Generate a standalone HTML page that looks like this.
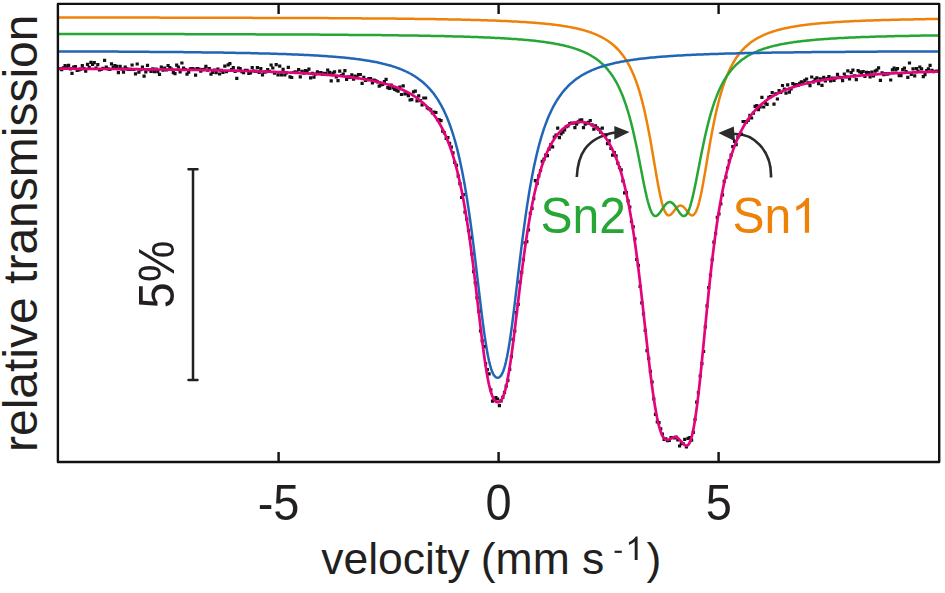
<!DOCTYPE html>
<html><head><meta charset="utf-8"><style>
html,body{margin:0;padding:0;background:#fff;}
body{width:945px;height:593px;overflow:hidden;}
svg{display:block;}
text{font-family:"Liberation Sans",sans-serif;fill:#231f1e;}
</style></head><body>
<svg width="945" height="593" viewBox="0 0 945 593">
<rect x="0" y="0" width="945" height="593" fill="#fff"/>
<g fill="none" stroke-linejoin="round" stroke-linecap="round">
<path d="M59.0 17.5L60.0 17.5L61.0 17.5L62.0 17.5L63.0 17.5L64.0 17.5L65.0 17.5L66.0 17.5L67.0 17.5L68.0 17.5L69.0 17.5L70.0 17.5L71.0 17.5L72.0 17.5L73.0 17.5L74.0 17.5L75.0 17.5L76.0 17.5L77.0 17.5L78.0 17.5L79.0 17.5L80.0 17.5L81.0 17.5L82.0 17.5L83.0 17.6L84.0 17.6L85.0 17.6L86.0 17.6L87.0 17.6L88.0 17.6L89.0 17.6L90.0 17.6L91.0 17.6L92.0 17.6L93.0 17.6L94.0 17.6L95.0 17.6L96.0 17.6L97.0 17.6L98.0 17.6L99.0 17.6L100.0 17.6L101.0 17.6L102.0 17.6L103.0 17.6L104.0 17.6L105.0 17.6L106.0 17.6L107.0 17.6L108.0 17.6L109.0 17.6L110.0 17.6L111.0 17.6L112.0 17.6L113.0 17.6L114.0 17.6L115.0 17.6L116.0 17.6L117.0 17.6L118.0 17.6L119.0 17.6L120.0 17.6L121.0 17.6L122.0 17.6L123.0 17.6L124.0 17.6L125.0 17.6L126.0 17.6L127.0 17.6L128.0 17.6L129.0 17.6L130.0 17.6L131.0 17.6L132.0 17.6L133.0 17.6L134.0 17.6L135.0 17.6L136.0 17.6L137.0 17.6L138.0 17.6L139.0 17.6L140.0 17.6L141.0 17.6L142.0 17.6L143.0 17.6L144.0 17.6L145.0 17.6L146.0 17.6L147.0 17.6L148.0 17.6L149.0 17.6L150.0 17.6L151.0 17.6L152.0 17.6L153.0 17.6L154.0 17.6L155.0 17.6L156.0 17.6L157.0 17.6L158.0 17.6L159.0 17.6L160.0 17.7L161.0 17.7L162.0 17.7L163.0 17.7L164.0 17.7L165.0 17.7L166.0 17.7L167.0 17.7L168.0 17.7L169.0 17.7L170.0 17.7L171.0 17.7L172.0 17.7L173.0 17.7L174.0 17.7L175.0 17.7L176.0 17.7L177.0 17.7L178.0 17.7L179.0 17.7L180.0 17.7L181.0 17.7L182.0 17.7L183.0 17.7L184.0 17.7L185.0 17.7L186.0 17.7L187.0 17.7L188.0 17.7L189.0 17.7L190.0 17.7L191.0 17.7L192.0 17.7L193.0 17.7L194.0 17.7L195.0 17.7L196.0 17.7L197.0 17.7L198.0 17.7L199.0 17.7L200.0 17.7L201.0 17.7L202.0 17.7L203.0 17.7L204.0 17.7L205.0 17.7L206.0 17.7L207.0 17.7L208.0 17.7L209.0 17.7L210.0 17.7L211.0 17.7L212.0 17.7L213.0 17.8L214.0 17.8L215.0 17.8L216.0 17.8L217.0 17.8L218.0 17.8L219.0 17.8L220.0 17.8L221.0 17.8L222.0 17.8L223.0 17.8L224.0 17.8L225.0 17.8L226.0 17.8L227.0 17.8L228.0 17.8L229.0 17.8L230.0 17.8L231.0 17.8L232.0 17.8L233.0 17.8L234.0 17.8L235.0 17.8L236.0 17.8L237.0 17.8L238.0 17.8L239.0 17.8L240.0 17.8L241.0 17.8L242.0 17.8L243.0 17.8L244.0 17.8L245.0 17.8L246.0 17.8L247.0 17.8L248.0 17.8L249.0 17.8L250.0 17.8L251.0 17.8L252.0 17.8L253.0 17.9L254.0 17.9L255.0 17.9L256.0 17.9L257.0 17.9L258.0 17.9L259.0 17.9L260.0 17.9L261.0 17.9L262.0 17.9L263.0 17.9L264.0 17.9L265.0 17.9L266.0 17.9L267.0 17.9L268.0 17.9L269.0 17.9L270.0 17.9L271.0 17.9L272.0 17.9L273.0 17.9L274.0 17.9L275.0 17.9L276.0 17.9L277.0 17.9L278.0 17.9L279.0 17.9L280.0 17.9L281.0 17.9L282.0 17.9L283.0 18.0L284.0 18.0L285.0 18.0L286.0 18.0L287.0 18.0L288.0 18.0L289.0 18.0L290.0 18.0L291.0 18.0L292.0 18.0L293.0 18.0L294.0 18.0L295.0 18.0L296.0 18.0L297.0 18.0L298.0 18.0L299.0 18.0L300.0 18.0L301.0 18.0L302.0 18.0L303.0 18.0L304.0 18.0L305.0 18.0L306.0 18.0L307.0 18.0L308.0 18.1L309.0 18.1L310.0 18.1L311.0 18.1L312.0 18.1L313.0 18.1L314.0 18.1L315.0 18.1L316.0 18.1L317.0 18.1L318.0 18.1L319.0 18.1L320.0 18.1L321.0 18.1L322.0 18.1L323.0 18.1L324.0 18.1L325.0 18.1L326.0 18.1L327.0 18.1L328.0 18.1L329.0 18.2L330.0 18.2L331.0 18.2L332.0 18.2L333.0 18.2L334.0 18.2L335.0 18.2L336.0 18.2L337.0 18.2L338.0 18.2L339.0 18.2L340.0 18.2L341.0 18.2L342.0 18.2L343.0 18.2L344.0 18.2L345.0 18.2L346.0 18.3L347.0 18.3L348.0 18.3L349.0 18.3L350.0 18.3L351.0 18.3L352.0 18.3L353.0 18.3L354.0 18.3L355.0 18.3L356.0 18.3L357.0 18.3L358.0 18.3L359.0 18.3L360.0 18.3L361.0 18.3L362.0 18.4L363.0 18.4L364.0 18.4L365.0 18.4L366.0 18.4L367.0 18.4L368.0 18.4L369.0 18.4L370.0 18.4L371.0 18.4L372.0 18.4L373.0 18.4L374.0 18.4L375.0 18.5L376.0 18.5L377.0 18.5L378.0 18.5L379.0 18.5L380.0 18.5L381.0 18.5L382.0 18.5L383.0 18.5L384.0 18.5L385.0 18.5L386.0 18.6L387.0 18.6L388.0 18.6L389.0 18.6L390.0 18.6L391.0 18.6L392.0 18.6L393.0 18.6L394.0 18.6L395.0 18.6L396.0 18.6L397.0 18.7L398.0 18.7L399.0 18.7L400.0 18.7L401.0 18.7L402.0 18.7L403.0 18.7L404.0 18.7L405.0 18.7L406.0 18.8L407.0 18.8L408.0 18.8L409.0 18.8L410.0 18.8L411.0 18.8L412.0 18.8L413.0 18.8L414.0 18.8L415.0 18.9L416.0 18.9L417.0 18.9L418.0 18.9L419.0 18.9L420.0 18.9L421.0 18.9L422.0 19.0L423.0 19.0L424.0 19.0L425.0 19.0L426.0 19.0L427.0 19.0L428.0 19.0L429.0 19.1L430.0 19.1L431.0 19.1L432.0 19.1L433.0 19.1L434.0 19.1L435.0 19.1L436.0 19.2L437.0 19.2L438.0 19.2L439.0 19.2L440.0 19.2L441.0 19.2L442.0 19.3L443.0 19.3L444.0 19.3L445.0 19.3L446.0 19.3L447.0 19.3L448.0 19.4L449.0 19.4L450.0 19.4L451.0 19.4L452.0 19.4L453.0 19.5L454.0 19.5L455.0 19.5L456.0 19.5L457.0 19.5L458.0 19.6L459.0 19.6L460.0 19.6L461.0 19.6L462.0 19.7L463.0 19.7L464.0 19.7L465.0 19.7L466.0 19.7L467.0 19.8L468.0 19.8L469.0 19.8L470.0 19.8L471.0 19.9L472.0 19.9L473.0 19.9L474.0 20.0L475.0 20.0L476.0 20.0L477.0 20.0L478.0 20.1L479.0 20.1L480.0 20.1L481.0 20.2L482.0 20.2L483.0 20.2L484.0 20.2L485.0 20.3L486.0 20.3L487.0 20.3L488.0 20.4L489.0 20.4L490.0 20.4L491.0 20.5L492.0 20.5L493.0 20.5L494.0 20.6L495.0 20.6L496.0 20.7L497.0 20.7L498.0 20.7L499.0 20.8L500.0 20.8L501.0 20.9L502.0 20.9L503.0 20.9L504.0 21.0L505.0 21.0L506.0 21.1L507.0 21.1L508.0 21.2L509.0 21.2L510.0 21.3L511.0 21.3L512.0 21.4L513.0 21.4L514.0 21.5L515.0 21.5L516.0 21.6L517.0 21.6L518.0 21.7L519.0 21.7L520.0 21.8L521.0 21.9L522.0 21.9L523.0 22.0L524.0 22.0L525.0 22.1L526.0 22.2L527.0 22.2L528.0 22.3L529.0 22.4L530.0 22.4L531.0 22.5L532.0 22.6L533.0 22.7L534.0 22.7L535.0 22.8L536.0 22.9L537.0 23.0L538.0 23.1L539.0 23.2L540.0 23.2L541.0 23.3L542.0 23.4L543.0 23.5L544.0 23.6L545.0 23.7L546.0 23.8L547.0 23.9L548.0 24.0L549.0 24.1L550.0 24.2L551.0 24.3L552.0 24.5L553.0 24.6L554.0 24.7L555.0 24.8L556.0 24.9L557.0 25.1L558.0 25.2L559.0 25.3L560.0 25.5L561.0 25.6L562.0 25.8L563.0 25.9L564.0 26.1L565.0 26.2L566.0 26.4L567.0 26.6L568.0 26.8L569.0 26.9L570.0 27.1L571.0 27.3L572.0 27.5L573.0 27.7L574.0 27.9L575.0 28.1L576.0 28.3L577.0 28.6L578.0 28.8L579.0 29.0L580.0 29.3L581.0 29.5L582.0 29.8L583.0 30.0L584.0 30.3L585.0 30.6L586.0 30.9L587.0 31.2L588.0 31.5L589.0 31.9L590.0 32.2L591.0 32.5L592.0 32.9L593.0 33.3L594.0 33.7L595.0 34.1L596.0 34.5L597.0 34.9L598.0 35.4L599.0 35.8L600.0 36.3L601.0 36.8L602.0 37.4L603.0 37.9L604.0 38.5L605.0 39.0L606.0 39.7L607.0 40.3L608.0 41.0L609.0 41.7L610.0 42.4L611.0 43.1L612.0 43.9L613.0 44.8L614.0 45.6L615.0 46.5L616.0 47.5L617.0 48.5L618.0 49.5L619.0 50.6L620.0 51.7L621.0 52.9L622.0 54.2L623.0 55.5L624.0 56.9L625.0 58.4L626.0 60.0L627.0 61.6L628.0 63.3L629.0 65.1L630.0 67.0L631.0 69.1L632.0 71.2L633.0 73.5L634.0 75.8L635.0 78.4L636.0 81.0L637.0 83.9L638.0 86.9L639.0 90.0L640.0 93.4L641.0 96.9L642.0 100.6L643.0 104.6L644.0 108.7L645.0 113.1L646.0 117.7L647.0 122.5L648.0 127.5L649.0 132.7L650.0 138.1L651.0 143.7L652.0 149.5L653.0 155.3L654.0 161.2L655.0 167.1L656.0 173.0L657.0 178.8L658.0 184.3L659.0 189.6L660.0 194.5L661.0 199.0L662.0 203.1L663.0 206.5L664.0 209.4L665.0 211.7L666.0 213.4L667.0 214.6L668.0 215.3L669.0 215.4L670.0 215.1L671.0 214.4L672.0 213.4L673.0 212.2L674.0 210.9L675.0 209.6L676.0 208.4L677.0 207.3L678.0 206.5L679.0 205.9L680.0 205.6L681.0 205.6L682.0 205.9L683.0 206.5L684.0 207.4L685.0 208.5L686.0 209.7L687.0 211.0L688.0 212.3L689.0 213.5L690.0 214.5L691.0 215.1L692.0 215.4L693.0 215.2L694.0 214.5L695.0 213.3L696.0 211.5L697.0 209.2L698.0 206.3L699.0 202.8L700.0 198.7L701.0 194.2L702.0 189.2L703.0 183.9L704.0 178.3L705.0 172.6L706.0 166.7L707.0 160.7L708.0 154.8L709.0 149.0L710.0 143.3L711.0 137.7L712.0 132.3L713.0 127.1L714.0 122.1L715.0 117.3L716.0 112.7L717.0 108.4L718.0 104.2L719.0 100.3L720.0 96.6L721.0 93.1L722.0 89.8L723.0 86.6L724.0 83.6L725.0 80.8L726.0 78.2L727.0 75.6L728.0 73.3L729.0 71.0L730.0 68.9L731.0 66.9L732.0 65.0L733.0 63.2L734.0 61.5L735.0 59.8L736.0 58.3L737.0 56.8L738.0 55.4L739.0 54.1L740.0 52.8L741.0 51.7L742.0 50.5L743.0 49.4L744.0 48.4L745.0 47.4L746.0 46.5L747.0 45.6L748.0 44.7L749.0 43.9L750.0 43.1L751.0 42.3L752.0 41.6L753.0 40.9L754.0 40.3L755.0 39.6L756.0 39.0L757.0 38.4L758.0 37.9L759.0 37.3L760.0 36.8L761.0 36.3L762.0 35.8L763.0 35.3L764.0 34.9L765.0 34.5L766.0 34.0L767.0 33.6L768.0 33.3L769.0 32.9L770.0 32.5L771.0 32.2L772.0 31.8L773.0 31.5L774.0 31.2L775.0 30.9L776.0 30.6L777.0 30.3L778.0 30.0L779.0 29.8L780.0 29.5L781.0 29.2L782.0 29.0L783.0 28.8L784.0 28.5L785.0 28.3L786.0 28.1L787.0 27.9L788.0 27.7L789.0 27.5L790.0 27.3L791.0 27.1L792.0 26.9L793.0 26.7L794.0 26.6L795.0 26.4L796.0 26.2L797.0 26.1L798.0 25.9L799.0 25.8L800.0 25.6L801.0 25.5L802.0 25.3L803.0 25.2L804.0 25.1L805.0 24.9L806.0 24.8L807.0 24.7L808.0 24.6L809.0 24.5L810.0 24.3L811.0 24.2L812.0 24.1L813.0 24.0L814.0 23.9L815.0 23.8L816.0 23.7L817.0 23.6L818.0 23.5L819.0 23.4L820.0 23.3L821.0 23.2L822.0 23.1L823.0 23.1L824.0 23.0L825.0 22.9L826.0 22.8L827.0 22.7L828.0 22.7L829.0 22.6L830.0 22.5L831.0 22.4L832.0 22.4L833.0 22.3L834.0 22.2L835.0 22.2L836.0 22.1L837.0 22.0L838.0 22.0L839.0 21.9L840.0 21.9L841.0 21.8L842.0 21.7L843.0 21.7L844.0 21.6L845.0 21.6L846.0 21.5L847.0 21.5L848.0 21.4L849.0 21.4L850.0 21.3L851.0 21.3L852.0 21.2L853.0 21.2L854.0 21.1L855.0 21.1L856.0 21.0L857.0 21.0L858.0 20.9L859.0 20.9L860.0 20.9L861.0 20.8L862.0 20.8L863.0 20.7L864.0 20.7L865.0 20.7L866.0 20.6L867.0 20.6L868.0 20.5L869.0 20.5L870.0 20.5L871.0 20.4L872.0 20.4L873.0 20.4L874.0 20.3L875.0 20.3L876.0 20.3L877.0 20.2L878.0 20.2L879.0 20.2L880.0 20.2L881.0 20.1L882.0 20.1L883.0 20.1L884.0 20.0L885.0 20.0L886.0 20.0L887.0 20.0L888.0 19.9L889.0 19.9L890.0 19.9L891.0 19.8L892.0 19.8L893.0 19.8L894.0 19.8L895.0 19.7L896.0 19.7L897.0 19.7L898.0 19.7L899.0 19.7L900.0 19.6L901.0 19.6L902.0 19.6L903.0 19.6L904.0 19.5L905.0 19.5L906.0 19.5L907.0 19.5L908.0 19.5L909.0 19.4L910.0 19.4L911.0 19.4L912.0 19.4L913.0 19.4L914.0 19.3L915.0 19.3L916.0 19.3L917.0 19.3L918.0 19.3L919.0 19.3L920.0 19.2L921.0 19.2L922.0 19.2L923.0 19.2L924.0 19.2L925.0 19.2L926.0 19.1L927.0 19.1L928.0 19.1L929.0 19.1L930.0 19.1L931.0 19.1L932.0 19.0L933.0 19.0L934.0 19.0L935.0 19.0L936.0 19.0L937.0 19.0L938.0 19.0" stroke="#ee8208" stroke-width="2.5"/>
<path d="M59.0 34.0L60.0 34.0L61.0 34.0L62.0 34.0L63.0 34.0L64.0 34.0L65.0 34.0L66.0 34.0L67.0 34.0L68.0 34.0L69.0 34.0L70.0 34.0L71.0 34.0L72.0 34.0L73.0 34.0L74.0 34.0L75.0 34.0L76.0 34.0L77.0 34.0L78.0 34.0L79.0 34.0L80.0 34.0L81.0 34.0L82.0 34.0L83.0 34.0L84.0 34.0L85.0 34.0L86.0 34.0L87.0 34.0L88.0 34.0L89.0 34.0L90.0 34.0L91.0 34.0L92.0 34.0L93.0 34.0L94.0 34.0L95.0 34.0L96.0 34.0L97.0 34.0L98.0 34.0L99.0 34.0L100.0 34.0L101.0 34.0L102.0 34.0L103.0 34.0L104.0 34.0L105.0 34.0L106.0 34.0L107.0 34.0L108.0 34.0L109.0 34.0L110.0 34.0L111.0 34.0L112.0 34.0L113.0 34.0L114.0 34.0L115.0 34.0L116.0 34.0L117.0 34.0L118.0 34.0L119.0 34.0L120.0 34.0L121.0 34.0L122.0 34.0L123.0 34.0L124.0 34.0L125.0 34.0L126.0 34.0L127.0 34.0L128.0 34.0L129.0 34.0L130.0 34.0L131.0 34.0L132.0 34.0L133.0 34.1L134.0 34.1L135.0 34.1L136.0 34.1L137.0 34.1L138.0 34.1L139.0 34.1L140.0 34.1L141.0 34.1L142.0 34.1L143.0 34.1L144.0 34.1L145.0 34.1L146.0 34.1L147.0 34.1L148.0 34.1L149.0 34.1L150.0 34.1L151.0 34.1L152.0 34.1L153.0 34.1L154.0 34.1L155.0 34.1L156.0 34.1L157.0 34.1L158.0 34.1L159.0 34.1L160.0 34.1L161.0 34.1L162.0 34.1L163.0 34.1L164.0 34.1L165.0 34.1L166.0 34.1L167.0 34.1L168.0 34.1L169.0 34.1L170.0 34.1L171.0 34.1L172.0 34.1L173.0 34.1L174.0 34.1L175.0 34.1L176.0 34.1L177.0 34.1L178.0 34.1L179.0 34.1L180.0 34.1L181.0 34.1L182.0 34.1L183.0 34.1L184.0 34.1L185.0 34.2L186.0 34.2L187.0 34.2L188.0 34.2L189.0 34.2L190.0 34.2L191.0 34.2L192.0 34.2L193.0 34.2L194.0 34.2L195.0 34.2L196.0 34.2L197.0 34.2L198.0 34.2L199.0 34.2L200.0 34.2L201.0 34.2L202.0 34.2L203.0 34.2L204.0 34.2L205.0 34.2L206.0 34.2L207.0 34.2L208.0 34.2L209.0 34.2L210.0 34.2L211.0 34.2L212.0 34.2L213.0 34.2L214.0 34.2L215.0 34.2L216.0 34.2L217.0 34.2L218.0 34.2L219.0 34.2L220.0 34.2L221.0 34.2L222.0 34.2L223.0 34.2L224.0 34.2L225.0 34.3L226.0 34.3L227.0 34.3L228.0 34.3L229.0 34.3L230.0 34.3L231.0 34.3L232.0 34.3L233.0 34.3L234.0 34.3L235.0 34.3L236.0 34.3L237.0 34.3L238.0 34.3L239.0 34.3L240.0 34.3L241.0 34.3L242.0 34.3L243.0 34.3L244.0 34.3L245.0 34.3L246.0 34.3L247.0 34.3L248.0 34.3L249.0 34.3L250.0 34.3L251.0 34.3L252.0 34.3L253.0 34.3L254.0 34.3L255.0 34.3L256.0 34.4L257.0 34.4L258.0 34.4L259.0 34.4L260.0 34.4L261.0 34.4L262.0 34.4L263.0 34.4L264.0 34.4L265.0 34.4L266.0 34.4L267.0 34.4L268.0 34.4L269.0 34.4L270.0 34.4L271.0 34.4L272.0 34.4L273.0 34.4L274.0 34.4L275.0 34.4L276.0 34.4L277.0 34.4L278.0 34.4L279.0 34.4L280.0 34.4L281.0 34.5L282.0 34.5L283.0 34.5L284.0 34.5L285.0 34.5L286.0 34.5L287.0 34.5L288.0 34.5L289.0 34.5L290.0 34.5L291.0 34.5L292.0 34.5L293.0 34.5L294.0 34.5L295.0 34.5L296.0 34.5L297.0 34.5L298.0 34.5L299.0 34.5L300.0 34.5L301.0 34.5L302.0 34.6L303.0 34.6L304.0 34.6L305.0 34.6L306.0 34.6L307.0 34.6L308.0 34.6L309.0 34.6L310.0 34.6L311.0 34.6L312.0 34.6L313.0 34.6L314.0 34.6L315.0 34.6L316.0 34.6L317.0 34.6L318.0 34.6L319.0 34.6L320.0 34.7L321.0 34.7L322.0 34.7L323.0 34.7L324.0 34.7L325.0 34.7L326.0 34.7L327.0 34.7L328.0 34.7L329.0 34.7L330.0 34.7L331.0 34.7L332.0 34.7L333.0 34.7L334.0 34.7L335.0 34.7L336.0 34.8L337.0 34.8L338.0 34.8L339.0 34.8L340.0 34.8L341.0 34.8L342.0 34.8L343.0 34.8L344.0 34.8L345.0 34.8L346.0 34.8L347.0 34.8L348.0 34.8L349.0 34.9L350.0 34.9L351.0 34.9L352.0 34.9L353.0 34.9L354.0 34.9L355.0 34.9L356.0 34.9L357.0 34.9L358.0 34.9L359.0 34.9L360.0 34.9L361.0 34.9L362.0 35.0L363.0 35.0L364.0 35.0L365.0 35.0L366.0 35.0L367.0 35.0L368.0 35.0L369.0 35.0L370.0 35.0L371.0 35.0L372.0 35.1L373.0 35.1L374.0 35.1L375.0 35.1L376.0 35.1L377.0 35.1L378.0 35.1L379.0 35.1L380.0 35.1L381.0 35.1L382.0 35.2L383.0 35.2L384.0 35.2L385.0 35.2L386.0 35.2L387.0 35.2L388.0 35.2L389.0 35.2L390.0 35.2L391.0 35.3L392.0 35.3L393.0 35.3L394.0 35.3L395.0 35.3L396.0 35.3L397.0 35.3L398.0 35.3L399.0 35.4L400.0 35.4L401.0 35.4L402.0 35.4L403.0 35.4L404.0 35.4L405.0 35.4L406.0 35.5L407.0 35.5L408.0 35.5L409.0 35.5L410.0 35.5L411.0 35.5L412.0 35.5L413.0 35.6L414.0 35.6L415.0 35.6L416.0 35.6L417.0 35.6L418.0 35.6L419.0 35.7L420.0 35.7L421.0 35.7L422.0 35.7L423.0 35.7L424.0 35.7L425.0 35.8L426.0 35.8L427.0 35.8L428.0 35.8L429.0 35.8L430.0 35.8L431.0 35.9L432.0 35.9L433.0 35.9L434.0 35.9L435.0 35.9L436.0 36.0L437.0 36.0L438.0 36.0L439.0 36.0L440.0 36.0L441.0 36.1L442.0 36.1L443.0 36.1L444.0 36.1L445.0 36.2L446.0 36.2L447.0 36.2L448.0 36.2L449.0 36.3L450.0 36.3L451.0 36.3L452.0 36.3L453.0 36.4L454.0 36.4L455.0 36.4L456.0 36.4L457.0 36.5L458.0 36.5L459.0 36.5L460.0 36.5L461.0 36.6L462.0 36.6L463.0 36.6L464.0 36.7L465.0 36.7L466.0 36.7L467.0 36.8L468.0 36.8L469.0 36.8L470.0 36.8L471.0 36.9L472.0 36.9L473.0 36.9L474.0 37.0L475.0 37.0L476.0 37.1L477.0 37.1L478.0 37.1L479.0 37.2L480.0 37.2L481.0 37.2L482.0 37.3L483.0 37.3L484.0 37.4L485.0 37.4L486.0 37.4L487.0 37.5L488.0 37.5L489.0 37.6L490.0 37.6L491.0 37.7L492.0 37.7L493.0 37.8L494.0 37.8L495.0 37.9L496.0 37.9L497.0 38.0L498.0 38.0L499.0 38.1L500.0 38.1L501.0 38.2L502.0 38.2L503.0 38.3L504.0 38.3L505.0 38.4L506.0 38.5L507.0 38.5L508.0 38.6L509.0 38.7L510.0 38.7L511.0 38.8L512.0 38.9L513.0 38.9L514.0 39.0L515.0 39.1L516.0 39.1L517.0 39.2L518.0 39.3L519.0 39.4L520.0 39.4L521.0 39.5L522.0 39.6L523.0 39.7L524.0 39.8L525.0 39.9L526.0 39.9L527.0 40.0L528.0 40.1L529.0 40.2L530.0 40.3L531.0 40.4L532.0 40.5L533.0 40.6L534.0 40.7L535.0 40.8L536.0 41.0L537.0 41.1L538.0 41.2L539.0 41.3L540.0 41.4L541.0 41.6L542.0 41.7L543.0 41.8L544.0 42.0L545.0 42.1L546.0 42.2L547.0 42.4L548.0 42.5L549.0 42.7L550.0 42.8L551.0 43.0L552.0 43.2L553.0 43.3L554.0 43.5L555.0 43.7L556.0 43.9L557.0 44.1L558.0 44.3L559.0 44.5L560.0 44.7L561.0 44.9L562.0 45.1L563.0 45.3L564.0 45.5L565.0 45.8L566.0 46.0L567.0 46.3L568.0 46.5L569.0 46.8L570.0 47.1L571.0 47.4L572.0 47.6L573.0 47.9L574.0 48.3L575.0 48.6L576.0 48.9L577.0 49.3L578.0 49.6L579.0 50.0L580.0 50.4L581.0 50.8L582.0 51.2L583.0 51.6L584.0 52.0L585.0 52.5L586.0 52.9L587.0 53.4L588.0 53.9L589.0 54.5L590.0 55.0L591.0 55.6L592.0 56.2L593.0 56.8L594.0 57.4L595.0 58.1L596.0 58.8L597.0 59.5L598.0 60.3L599.0 61.0L600.0 61.9L601.0 62.7L602.0 63.6L603.0 64.5L604.0 65.5L605.0 66.5L606.0 67.6L607.0 68.7L608.0 69.9L609.0 71.2L610.0 72.4L611.0 73.8L612.0 75.2L613.0 76.7L614.0 78.3L615.0 80.0L616.0 81.7L617.0 83.5L618.0 85.5L619.0 87.5L620.0 89.7L621.0 91.9L622.0 94.3L623.0 96.8L624.0 99.5L625.0 102.3L626.0 105.2L627.0 108.3L628.0 111.6L629.0 115.0L630.0 118.6L631.0 122.4L632.0 126.4L633.0 130.5L634.0 134.9L635.0 139.4L636.0 144.0L637.0 148.8L638.0 153.8L639.0 158.8L640.0 163.9L641.0 169.1L642.0 174.3L643.0 179.4L644.0 184.4L645.0 189.2L646.0 193.8L647.0 198.1L648.0 202.0L649.0 205.5L650.0 208.5L651.0 211.1L652.0 213.1L653.0 214.6L654.0 215.6L655.0 216.0L656.0 216.0L657.0 215.6L658.0 214.8L659.0 213.7L660.0 212.4L661.0 211.0L662.0 209.4L663.0 207.9L664.0 206.5L665.0 205.2L666.0 204.0L667.0 203.1L668.0 202.5L669.0 202.1L670.0 202.1L671.0 202.3L672.0 202.8L673.0 203.6L674.0 204.7L675.0 205.9L676.0 207.3L677.0 208.8L678.0 210.4L679.0 211.9L680.0 213.3L681.0 214.4L682.0 215.4L683.0 215.9L684.0 216.1L685.0 215.8L686.0 215.0L687.0 213.7L688.0 211.9L689.0 209.6L690.0 206.8L691.0 203.4L692.0 199.7L693.0 195.5L694.0 191.0L695.0 186.3L696.0 181.4L697.0 176.3L698.0 171.1L699.0 166.0L700.0 160.8L701.0 155.7L702.0 150.7L703.0 145.9L704.0 141.2L705.0 136.6L706.0 132.2L707.0 128.0L708.0 124.0L709.0 120.1L710.0 116.4L711.0 112.9L712.0 109.6L713.0 106.4L714.0 103.4L715.0 100.6L716.0 97.9L717.0 95.3L718.0 92.9L719.0 90.5L720.0 88.3L721.0 86.3L722.0 84.3L723.0 82.4L724.0 80.6L725.0 78.9L726.0 77.3L727.0 75.8L728.0 74.4L729.0 73.0L730.0 71.7L731.0 70.4L732.0 69.2L733.0 68.1L734.0 67.0L735.0 65.9L736.0 64.9L737.0 64.0L738.0 63.1L739.0 62.2L740.0 61.4L741.0 60.6L742.0 59.8L743.0 59.1L744.0 58.4L745.0 57.7L746.0 57.0L747.0 56.4L748.0 55.8L749.0 55.2L750.0 54.7L751.0 54.1L752.0 53.6L753.0 53.1L754.0 52.7L755.0 52.2L756.0 51.8L757.0 51.3L758.0 50.9L759.0 50.5L760.0 50.1L761.0 49.8L762.0 49.4L763.0 49.0L764.0 48.7L765.0 48.4L766.0 48.1L767.0 47.8L768.0 47.5L769.0 47.2L770.0 46.9L771.0 46.6L772.0 46.4L773.0 46.1L774.0 45.9L775.0 45.6L776.0 45.4L777.0 45.2L778.0 45.0L779.0 44.7L780.0 44.5L781.0 44.3L782.0 44.1L783.0 43.9L784.0 43.8L785.0 43.6L786.0 43.4L787.0 43.2L788.0 43.1L789.0 42.9L790.0 42.7L791.0 42.6L792.0 42.4L793.0 42.3L794.0 42.1L795.0 42.0L796.0 41.9L797.0 41.7L798.0 41.6L799.0 41.5L800.0 41.4L801.0 41.2L802.0 41.1L803.0 41.0L804.0 40.9L805.0 40.8L806.0 40.7L807.0 40.6L808.0 40.5L809.0 40.4L810.0 40.3L811.0 40.2L812.0 40.1L813.0 40.0L814.0 39.9L815.0 39.8L816.0 39.7L817.0 39.6L818.0 39.6L819.0 39.5L820.0 39.4L821.0 39.3L822.0 39.2L823.0 39.2L824.0 39.1L825.0 39.0L826.0 38.9L827.0 38.9L828.0 38.8L829.0 38.7L830.0 38.7L831.0 38.6L832.0 38.6L833.0 38.5L834.0 38.4L835.0 38.4L836.0 38.3L837.0 38.3L838.0 38.2L839.0 38.1L840.0 38.1L841.0 38.0L842.0 38.0L843.0 37.9L844.0 37.9L845.0 37.8L846.0 37.8L847.0 37.7L848.0 37.7L849.0 37.6L850.0 37.6L851.0 37.6L852.0 37.5L853.0 37.5L854.0 37.4L855.0 37.4L856.0 37.3L857.0 37.3L858.0 37.3L859.0 37.2L860.0 37.2L861.0 37.1L862.0 37.1L863.0 37.1L864.0 37.0L865.0 37.0L866.0 37.0L867.0 36.9L868.0 36.9L869.0 36.9L870.0 36.8L871.0 36.8L872.0 36.8L873.0 36.7L874.0 36.7L875.0 36.7L876.0 36.6L877.0 36.6L878.0 36.6L879.0 36.6L880.0 36.5L881.0 36.5L882.0 36.5L883.0 36.4L884.0 36.4L885.0 36.4L886.0 36.4L887.0 36.3L888.0 36.3L889.0 36.3L890.0 36.3L891.0 36.2L892.0 36.2L893.0 36.2L894.0 36.2L895.0 36.1L896.0 36.1L897.0 36.1L898.0 36.1L899.0 36.1L900.0 36.0L901.0 36.0L902.0 36.0L903.0 36.0L904.0 36.0L905.0 35.9L906.0 35.9L907.0 35.9L908.0 35.9L909.0 35.9L910.0 35.8L911.0 35.8L912.0 35.8L913.0 35.8L914.0 35.8L915.0 35.7L916.0 35.7L917.0 35.7L918.0 35.7L919.0 35.7L920.0 35.7L921.0 35.6L922.0 35.6L923.0 35.6L924.0 35.6L925.0 35.6L926.0 35.6L927.0 35.5L928.0 35.5L929.0 35.5L930.0 35.5L931.0 35.5L932.0 35.5L933.0 35.5L934.0 35.4L935.0 35.4L936.0 35.4L937.0 35.4L938.0 35.4" stroke="#26a635" stroke-width="2.5"/>
<path d="M59.0 51.4L60.0 51.4L61.0 51.4L62.0 51.4L63.0 51.4L64.0 51.4L65.0 51.4L66.0 51.4L67.0 51.4L68.0 51.4L69.0 51.4L70.0 51.4L71.0 51.4L72.0 51.4L73.0 51.4L74.0 51.4L75.0 51.4L76.0 51.5L77.0 51.5L78.0 51.5L79.0 51.5L80.0 51.5L81.0 51.5L82.0 51.5L83.0 51.5L84.0 51.5L85.0 51.5L86.0 51.5L87.0 51.5L88.0 51.5L89.0 51.5L90.0 51.5L91.0 51.5L92.0 51.5L93.0 51.5L94.0 51.5L95.0 51.5L96.0 51.5L97.0 51.5L98.0 51.5L99.0 51.6L100.0 51.6L101.0 51.6L102.0 51.6L103.0 51.6L104.0 51.6L105.0 51.6L106.0 51.6L107.0 51.6L108.0 51.6L109.0 51.6L110.0 51.6L111.0 51.6L112.0 51.6L113.0 51.6L114.0 51.6L115.0 51.6L116.0 51.6L117.0 51.6L118.0 51.6L119.0 51.7L120.0 51.7L121.0 51.7L122.0 51.7L123.0 51.7L124.0 51.7L125.0 51.7L126.0 51.7L127.0 51.7L128.0 51.7L129.0 51.7L130.0 51.7L131.0 51.7L132.0 51.7L133.0 51.7L134.0 51.7L135.0 51.8L136.0 51.8L137.0 51.8L138.0 51.8L139.0 51.8L140.0 51.8L141.0 51.8L142.0 51.8L143.0 51.8L144.0 51.8L145.0 51.8L146.0 51.8L147.0 51.8L148.0 51.8L149.0 51.8L150.0 51.9L151.0 51.9L152.0 51.9L153.0 51.9L154.0 51.9L155.0 51.9L156.0 51.9L157.0 51.9L158.0 51.9L159.0 51.9L160.0 51.9L161.0 51.9L162.0 51.9L163.0 52.0L164.0 52.0L165.0 52.0L166.0 52.0L167.0 52.0L168.0 52.0L169.0 52.0L170.0 52.0L171.0 52.0L172.0 52.0L173.0 52.0L174.0 52.1L175.0 52.1L176.0 52.1L177.0 52.1L178.0 52.1L179.0 52.1L180.0 52.1L181.0 52.1L182.0 52.1L183.0 52.1L184.0 52.2L185.0 52.2L186.0 52.2L187.0 52.2L188.0 52.2L189.0 52.2L190.0 52.2L191.0 52.2L192.0 52.2L193.0 52.2L194.0 52.3L195.0 52.3L196.0 52.3L197.0 52.3L198.0 52.3L199.0 52.3L200.0 52.3L201.0 52.3L202.0 52.4L203.0 52.4L204.0 52.4L205.0 52.4L206.0 52.4L207.0 52.4L208.0 52.4L209.0 52.4L210.0 52.5L211.0 52.5L212.0 52.5L213.0 52.5L214.0 52.5L215.0 52.5L216.0 52.5L217.0 52.6L218.0 52.6L219.0 52.6L220.0 52.6L221.0 52.6L222.0 52.6L223.0 52.6L224.0 52.7L225.0 52.7L226.0 52.7L227.0 52.7L228.0 52.7L229.0 52.7L230.0 52.8L231.0 52.8L232.0 52.8L233.0 52.8L234.0 52.8L235.0 52.8L236.0 52.9L237.0 52.9L238.0 52.9L239.0 52.9L240.0 52.9L241.0 53.0L242.0 53.0L243.0 53.0L244.0 53.0L245.0 53.0L246.0 53.1L247.0 53.1L248.0 53.1L249.0 53.1L250.0 53.1L251.0 53.2L252.0 53.2L253.0 53.2L254.0 53.2L255.0 53.3L256.0 53.3L257.0 53.3L258.0 53.3L259.0 53.4L260.0 53.4L261.0 53.4L262.0 53.4L263.0 53.5L264.0 53.5L265.0 53.5L266.0 53.5L267.0 53.6L268.0 53.6L269.0 53.6L270.0 53.6L271.0 53.7L272.0 53.7L273.0 53.7L274.0 53.8L275.0 53.8L276.0 53.8L277.0 53.8L278.0 53.9L279.0 53.9L280.0 53.9L281.0 54.0L282.0 54.0L283.0 54.0L284.0 54.1L285.0 54.1L286.0 54.1L287.0 54.2L288.0 54.2L289.0 54.3L290.0 54.3L291.0 54.3L292.0 54.4L293.0 54.4L294.0 54.5L295.0 54.5L296.0 54.5L297.0 54.6L298.0 54.6L299.0 54.7L300.0 54.7L301.0 54.7L302.0 54.8L303.0 54.8L304.0 54.9L305.0 54.9L306.0 55.0L307.0 55.0L308.0 55.1L309.0 55.1L310.0 55.2L311.0 55.2L312.0 55.3L313.0 55.3L314.0 55.4L315.0 55.5L316.0 55.5L317.0 55.6L318.0 55.6L319.0 55.7L320.0 55.8L321.0 55.8L322.0 55.9L323.0 55.9L324.0 56.0L325.0 56.1L326.0 56.1L327.0 56.2L328.0 56.3L329.0 56.4L330.0 56.4L331.0 56.5L332.0 56.6L333.0 56.7L334.0 56.7L335.0 56.8L336.0 56.9L337.0 57.0L338.0 57.1L339.0 57.2L340.0 57.2L341.0 57.3L342.0 57.4L343.0 57.5L344.0 57.6L345.0 57.7L346.0 57.8L347.0 57.9L348.0 58.0L349.0 58.1L350.0 58.2L351.0 58.4L352.0 58.5L353.0 58.6L354.0 58.7L355.0 58.8L356.0 58.9L357.0 59.1L358.0 59.2L359.0 59.3L360.0 59.5L361.0 59.6L362.0 59.8L363.0 59.9L364.0 60.0L365.0 60.2L366.0 60.4L367.0 60.5L368.0 60.7L369.0 60.8L370.0 61.0L371.0 61.2L372.0 61.4L373.0 61.5L374.0 61.7L375.0 61.9L376.0 62.1L377.0 62.3L378.0 62.5L379.0 62.8L380.0 63.0L381.0 63.2L382.0 63.4L383.0 63.7L384.0 63.9L385.0 64.2L386.0 64.4L387.0 64.7L388.0 65.0L389.0 65.2L390.0 65.5L391.0 65.8L392.0 66.1L393.0 66.4L394.0 66.8L395.0 67.1L396.0 67.4L397.0 67.8L398.0 68.1L399.0 68.5L400.0 68.9L401.0 69.3L402.0 69.7L403.0 70.1L404.0 70.6L405.0 71.0L406.0 71.5L407.0 72.0L408.0 72.4L409.0 73.0L410.0 73.5L411.0 74.0L412.0 74.6L413.0 75.2L414.0 75.8L415.0 76.4L416.0 77.1L417.0 77.7L418.0 78.4L419.0 79.2L420.0 79.9L421.0 80.7L422.0 81.5L423.0 82.3L424.0 83.2L425.0 84.1L426.0 85.1L427.0 86.0L428.0 87.1L429.0 88.1L430.0 89.2L431.0 90.4L432.0 91.6L433.0 92.8L434.0 94.1L435.0 95.5L436.0 96.9L437.0 98.4L438.0 99.9L439.0 101.6L440.0 103.3L441.0 105.0L442.0 106.9L443.0 108.8L444.0 110.9L445.0 113.0L446.0 115.2L447.0 117.5L448.0 120.0L449.0 122.6L450.0 125.3L451.0 128.1L452.0 131.1L453.0 134.2L454.0 137.5L455.0 140.9L456.0 144.6L457.0 148.4L458.0 152.4L459.0 156.6L460.0 161.0L461.0 165.7L462.0 170.6L463.0 175.7L464.0 181.1L465.0 186.7L466.0 192.6L467.0 198.8L468.0 205.2L469.0 211.9L470.0 218.9L471.0 226.2L472.0 233.7L473.0 241.5L474.0 249.4L475.0 257.6L476.0 265.9L477.0 274.3L478.0 282.8L479.0 291.3L480.0 299.7L481.0 308.0L482.0 316.1L483.0 323.9L484.0 331.3L485.0 338.3L486.0 344.8L487.0 350.7L488.0 356.1L489.0 360.8L490.0 364.9L491.0 368.4L492.0 371.3L493.0 373.6L494.0 375.3L495.0 376.6L496.0 377.3L497.0 377.7L498.0 377.7L499.0 377.4L500.0 376.7L501.0 375.6L502.0 373.9L503.0 371.7L504.0 369.0L505.0 365.6L506.0 361.6L507.0 357.0L508.0 351.8L509.0 346.0L510.0 339.6L511.0 332.7L512.0 325.3L513.0 317.6L514.0 309.6L515.0 301.3L516.0 292.9L517.0 284.4L518.0 275.9L519.0 267.5L520.0 259.1L521.0 250.9L522.0 242.9L523.0 235.1L524.0 227.6L525.0 220.3L526.0 213.2L527.0 206.4L528.0 200.0L529.0 193.7L530.0 187.8L531.0 182.1L532.0 176.7L533.0 171.5L534.0 166.6L535.0 161.9L536.0 157.4L537.0 153.2L538.0 149.1L539.0 145.3L540.0 141.6L541.0 138.1L542.0 134.8L543.0 131.6L544.0 128.6L545.0 125.8L546.0 123.1L547.0 120.5L548.0 118.0L549.0 115.6L550.0 113.4L551.0 111.2L552.0 109.2L553.0 107.2L554.0 105.4L555.0 103.6L556.0 101.9L557.0 100.2L558.0 98.7L559.0 97.2L560.0 95.8L561.0 94.4L562.0 93.1L563.0 91.8L564.0 90.6L565.0 89.4L566.0 88.3L567.0 87.3L568.0 86.2L569.0 85.2L570.0 84.3L571.0 83.4L572.0 82.5L573.0 81.7L574.0 80.8L575.0 80.1L576.0 79.3L577.0 78.6L578.0 77.9L579.0 77.2L580.0 76.5L581.0 75.9L582.0 75.3L583.0 74.7L584.0 74.1L585.0 73.6L586.0 73.1L587.0 72.5L588.0 72.0L589.0 71.6L590.0 71.1L591.0 70.6L592.0 70.2L593.0 69.8L594.0 69.4L595.0 69.0L596.0 68.6L597.0 68.2L598.0 67.8L599.0 67.5L600.0 67.1L601.0 66.8L602.0 66.5L603.0 66.2L604.0 65.9L605.0 65.6L606.0 65.3L607.0 65.0L608.0 64.7L609.0 64.5L610.0 64.2L611.0 64.0L612.0 63.7L613.0 63.5L614.0 63.2L615.0 63.0L616.0 62.8L617.0 62.6L618.0 62.4L619.0 62.2L620.0 62.0L621.0 61.8L622.0 61.6L623.0 61.4L624.0 61.2L625.0 61.0L626.0 60.9L627.0 60.7L628.0 60.5L629.0 60.4L630.0 60.2L631.0 60.1L632.0 59.9L633.0 59.8L634.0 59.6L635.0 59.5L636.0 59.4L637.0 59.2L638.0 59.1L639.0 59.0L640.0 58.8L641.0 58.7L642.0 58.6L643.0 58.5L644.0 58.4L645.0 58.3L646.0 58.2L647.0 58.0L648.0 57.9L649.0 57.8L650.0 57.7L651.0 57.6L652.0 57.5L653.0 57.4L654.0 57.4L655.0 57.3L656.0 57.2L657.0 57.1L658.0 57.0L659.0 56.9L660.0 56.8L661.0 56.8L662.0 56.7L663.0 56.6L664.0 56.5L665.0 56.4L666.0 56.4L667.0 56.3L668.0 56.2L669.0 56.2L670.0 56.1L671.0 56.0L672.0 56.0L673.0 55.9L674.0 55.8L675.0 55.8L676.0 55.7L677.0 55.6L678.0 55.6L679.0 55.5L680.0 55.5L681.0 55.4L682.0 55.4L683.0 55.3L684.0 55.2L685.0 55.2L686.0 55.1L687.0 55.1L688.0 55.0L689.0 55.0L690.0 54.9L691.0 54.9L692.0 54.8L693.0 54.8L694.0 54.8L695.0 54.7L696.0 54.7L697.0 54.6L698.0 54.6L699.0 54.5L700.0 54.5L701.0 54.5L702.0 54.4L703.0 54.4L704.0 54.3L705.0 54.3L706.0 54.3L707.0 54.2L708.0 54.2L709.0 54.2L710.0 54.1L711.0 54.1L712.0 54.0L713.0 54.0L714.0 54.0L715.0 53.9L716.0 53.9L717.0 53.9L718.0 53.9L719.0 53.8L720.0 53.8L721.0 53.8L722.0 53.7L723.0 53.7L724.0 53.7L725.0 53.6L726.0 53.6L727.0 53.6L728.0 53.6L729.0 53.5L730.0 53.5L731.0 53.5L732.0 53.5L733.0 53.4L734.0 53.4L735.0 53.4L736.0 53.4L737.0 53.3L738.0 53.3L739.0 53.3L740.0 53.3L741.0 53.2L742.0 53.2L743.0 53.2L744.0 53.2L745.0 53.1L746.0 53.1L747.0 53.1L748.0 53.1L749.0 53.1L750.0 53.0L751.0 53.0L752.0 53.0L753.0 53.0L754.0 53.0L755.0 52.9L756.0 52.9L757.0 52.9L758.0 52.9L759.0 52.9L760.0 52.9L761.0 52.8L762.0 52.8L763.0 52.8L764.0 52.8L765.0 52.8L766.0 52.7L767.0 52.7L768.0 52.7L769.0 52.7L770.0 52.7L771.0 52.7L772.0 52.6L773.0 52.6L774.0 52.6L775.0 52.6L776.0 52.6L777.0 52.6L778.0 52.6L779.0 52.5L780.0 52.5L781.0 52.5L782.0 52.5L783.0 52.5L784.0 52.5L785.0 52.5L786.0 52.4L787.0 52.4L788.0 52.4L789.0 52.4L790.0 52.4L791.0 52.4L792.0 52.4L793.0 52.4L794.0 52.3L795.0 52.3L796.0 52.3L797.0 52.3L798.0 52.3L799.0 52.3L800.0 52.3L801.0 52.3L802.0 52.3L803.0 52.2L804.0 52.2L805.0 52.2L806.0 52.2L807.0 52.2L808.0 52.2L809.0 52.2L810.0 52.2L811.0 52.2L812.0 52.1L813.0 52.1L814.0 52.1L815.0 52.1L816.0 52.1L817.0 52.1L818.0 52.1L819.0 52.1L820.0 52.1L821.0 52.1L822.0 52.0L823.0 52.0L824.0 52.0L825.0 52.0L826.0 52.0L827.0 52.0L828.0 52.0L829.0 52.0L830.0 52.0L831.0 52.0L832.0 52.0L833.0 52.0L834.0 51.9L835.0 51.9L836.0 51.9L837.0 51.9L838.0 51.9L839.0 51.9L840.0 51.9L841.0 51.9L842.0 51.9L843.0 51.9L844.0 51.9L845.0 51.9L846.0 51.8L847.0 51.8L848.0 51.8L849.0 51.8L850.0 51.8L851.0 51.8L852.0 51.8L853.0 51.8L854.0 51.8L855.0 51.8L856.0 51.8L857.0 51.8L858.0 51.8L859.0 51.8L860.0 51.8L861.0 51.7L862.0 51.7L863.0 51.7L864.0 51.7L865.0 51.7L866.0 51.7L867.0 51.7L868.0 51.7L869.0 51.7L870.0 51.7L871.0 51.7L872.0 51.7L873.0 51.7L874.0 51.7L875.0 51.7L876.0 51.7L877.0 51.7L878.0 51.6L879.0 51.6L880.0 51.6L881.0 51.6L882.0 51.6L883.0 51.6L884.0 51.6L885.0 51.6L886.0 51.6L887.0 51.6L888.0 51.6L889.0 51.6L890.0 51.6L891.0 51.6L892.0 51.6L893.0 51.6L894.0 51.6L895.0 51.6L896.0 51.6L897.0 51.5L898.0 51.5L899.0 51.5L900.0 51.5L901.0 51.5L902.0 51.5L903.0 51.5L904.0 51.5L905.0 51.5L906.0 51.5L907.0 51.5L908.0 51.5L909.0 51.5L910.0 51.5L911.0 51.5L912.0 51.5L913.0 51.5L914.0 51.5L915.0 51.5L916.0 51.5L917.0 51.5L918.0 51.5L919.0 51.5L920.0 51.4L921.0 51.4L922.0 51.4L923.0 51.4L924.0 51.4L925.0 51.4L926.0 51.4L927.0 51.4L928.0 51.4L929.0 51.4L930.0 51.4L931.0 51.4L932.0 51.4L933.0 51.4L934.0 51.4L935.0 51.4L936.0 51.4L937.0 51.4L938.0 51.4" stroke="#2166b6" stroke-width="2.5"/>
</g>
<g stroke="#2b2b2b" fill="none" stroke-width="2.6">
<path d="M576.8 177C577.8 156.3 584.7 138 615 132.5"/>
<path d="M771 177.5C771.9 149.4 752.3 133 734 134"/>
</g>
<g fill="#2b2b2b">
<path d="M629.5 132.1L614.3 125.9L614.3 139.4Z"/>
<path d="M718.3 132.9L733.8 126.5L735 141.2Z"/>
</g>
<path d="M58.4 67.1h3.2v3.2h-3.2zM60.1 68.1h3.2v3.2h-3.2zM61.8 66.2h3.2v3.2h-3.2zM63.5 64.1h3.2v3.2h-3.2zM65.3 65.6h3.2v3.2h-3.2zM67.0 63.7h3.2v3.2h-3.2zM68.7 67.3h3.2v3.2h-3.2zM70.4 71.7h3.2v3.2h-3.2zM72.1 65.5h3.2v3.2h-3.2zM73.8 65.0h3.2v3.2h-3.2zM75.6 68.8h3.2v3.2h-3.2zM77.3 68.4h3.2v3.2h-3.2zM79.0 67.5h3.2v3.2h-3.2zM80.7 64.0h3.2v3.2h-3.2zM82.4 67.1h3.2v3.2h-3.2zM84.1 69.6h3.2v3.2h-3.2zM85.9 62.7h3.2v3.2h-3.2zM87.6 65.7h3.2v3.2h-3.2zM89.3 60.8h3.2v3.2h-3.2zM91.0 62.9h3.2v3.2h-3.2zM92.7 61.0h3.2v3.2h-3.2zM94.4 66.5h3.2v3.2h-3.2zM96.2 63.0h3.2v3.2h-3.2zM97.9 68.2h3.2v3.2h-3.2zM99.6 67.9h3.2v3.2h-3.2zM101.3 66.7h3.2v3.2h-3.2zM103.0 58.8h3.2v3.2h-3.2zM104.7 65.5h3.2v3.2h-3.2zM106.5 67.2h3.2v3.2h-3.2zM108.2 67.8h3.2v3.2h-3.2zM109.9 62.2h3.2v3.2h-3.2zM111.6 65.8h3.2v3.2h-3.2zM113.3 64.1h3.2v3.2h-3.2zM115.0 64.7h3.2v3.2h-3.2zM116.8 71.1h3.2v3.2h-3.2zM118.5 64.7h3.2v3.2h-3.2zM120.2 67.4h3.2v3.2h-3.2zM121.9 70.5h3.2v3.2h-3.2zM123.6 65.5h3.2v3.2h-3.2zM125.3 67.2h3.2v3.2h-3.2zM127.0 67.9h3.2v3.2h-3.2zM128.8 67.8h3.2v3.2h-3.2zM130.5 63.4h3.2v3.2h-3.2zM132.2 67.9h3.2v3.2h-3.2zM133.9 72.2h3.2v3.2h-3.2zM135.6 62.4h3.2v3.2h-3.2zM137.3 70.6h3.2v3.2h-3.2zM139.1 68.1h3.2v3.2h-3.2zM140.8 65.5h3.2v3.2h-3.2zM142.5 74.5h3.2v3.2h-3.2zM144.2 70.3h3.2v3.2h-3.2zM145.9 63.7h3.2v3.2h-3.2zM147.6 68.0h3.2v3.2h-3.2zM149.4 69.7h3.2v3.2h-3.2zM151.1 67.2h3.2v3.2h-3.2zM152.8 70.1h3.2v3.2h-3.2zM154.5 67.6h3.2v3.2h-3.2zM156.2 70.1h3.2v3.2h-3.2zM157.9 72.8h3.2v3.2h-3.2zM159.7 65.6h3.2v3.2h-3.2zM161.4 68.6h3.2v3.2h-3.2zM163.1 66.4h3.2v3.2h-3.2zM164.8 68.4h3.2v3.2h-3.2zM166.5 63.9h3.2v3.2h-3.2zM168.2 66.0h3.2v3.2h-3.2zM170.0 67.4h3.2v3.2h-3.2zM171.7 71.1h3.2v3.2h-3.2zM173.4 72.0h3.2v3.2h-3.2zM175.1 63.6h3.2v3.2h-3.2zM176.8 65.4h3.2v3.2h-3.2zM178.5 70.3h3.2v3.2h-3.2zM180.3 61.4h3.2v3.2h-3.2zM182.0 66.6h3.2v3.2h-3.2zM183.7 67.9h3.2v3.2h-3.2zM185.4 72.5h3.2v3.2h-3.2zM187.1 70.6h3.2v3.2h-3.2zM188.8 67.2h3.2v3.2h-3.2zM190.6 67.1h3.2v3.2h-3.2zM192.3 67.5h3.2v3.2h-3.2zM194.0 73.5h3.2v3.2h-3.2zM195.7 66.9h3.2v3.2h-3.2zM197.4 67.4h3.2v3.2h-3.2zM199.1 69.6h3.2v3.2h-3.2zM200.8 68.1h3.2v3.2h-3.2zM202.6 67.8h3.2v3.2h-3.2zM204.3 64.7h3.2v3.2h-3.2zM206.0 68.5h3.2v3.2h-3.2zM207.7 67.1h3.2v3.2h-3.2zM209.4 72.6h3.2v3.2h-3.2zM211.1 70.9h3.2v3.2h-3.2zM212.9 68.6h3.2v3.2h-3.2zM214.6 71.0h3.2v3.2h-3.2zM216.3 67.6h3.2v3.2h-3.2zM218.0 72.4h3.2v3.2h-3.2zM219.7 68.8h3.2v3.2h-3.2zM221.4 70.8h3.2v3.2h-3.2zM223.2 64.5h3.2v3.2h-3.2zM224.9 70.1h3.2v3.2h-3.2zM226.6 63.2h3.2v3.2h-3.2zM228.3 62.1h3.2v3.2h-3.2zM230.0 68.0h3.2v3.2h-3.2zM231.7 66.0h3.2v3.2h-3.2zM233.5 69.7h3.2v3.2h-3.2zM235.2 76.8h3.2v3.2h-3.2zM236.9 66.4h3.2v3.2h-3.2zM238.6 67.1h3.2v3.2h-3.2zM240.3 70.0h3.2v3.2h-3.2zM242.0 71.0h3.2v3.2h-3.2zM243.8 68.8h3.2v3.2h-3.2zM245.5 68.7h3.2v3.2h-3.2zM247.2 71.9h3.2v3.2h-3.2zM248.9 71.3h3.2v3.2h-3.2zM250.6 66.1h3.2v3.2h-3.2zM252.3 69.4h3.2v3.2h-3.2zM254.1 69.8h3.2v3.2h-3.2zM255.8 66.1h3.2v3.2h-3.2zM257.5 70.7h3.2v3.2h-3.2zM259.2 66.9h3.2v3.2h-3.2zM260.9 73.2h3.2v3.2h-3.2zM262.6 70.6h3.2v3.2h-3.2zM264.3 70.3h3.2v3.2h-3.2zM266.1 68.1h3.2v3.2h-3.2zM267.8 69.7h3.2v3.2h-3.2zM269.5 63.4h3.2v3.2h-3.2zM271.2 66.4h3.2v3.2h-3.2zM272.9 71.5h3.2v3.2h-3.2zM274.6 63.1h3.2v3.2h-3.2zM276.4 73.3h3.2v3.2h-3.2zM278.1 64.6h3.2v3.2h-3.2zM279.8 73.2h3.2v3.2h-3.2zM281.5 67.8h3.2v3.2h-3.2zM283.2 73.4h3.2v3.2h-3.2zM284.9 71.2h3.2v3.2h-3.2zM286.7 65.7h3.2v3.2h-3.2zM288.4 75.2h3.2v3.2h-3.2zM290.1 75.9h3.2v3.2h-3.2zM291.8 70.9h3.2v3.2h-3.2zM293.5 70.3h3.2v3.2h-3.2zM295.2 70.7h3.2v3.2h-3.2zM297.0 68.1h3.2v3.2h-3.2zM298.7 75.2h3.2v3.2h-3.2zM300.4 69.7h3.2v3.2h-3.2zM302.1 71.5h3.2v3.2h-3.2zM303.8 69.1h3.2v3.2h-3.2zM305.5 69.7h3.2v3.2h-3.2zM307.3 67.6h3.2v3.2h-3.2zM309.0 76.3h3.2v3.2h-3.2zM310.7 71.7h3.2v3.2h-3.2zM312.4 75.6h3.2v3.2h-3.2zM314.1 72.4h3.2v3.2h-3.2zM315.8 70.2h3.2v3.2h-3.2zM317.6 71.5h3.2v3.2h-3.2zM319.3 70.9h3.2v3.2h-3.2zM321.0 72.9h3.2v3.2h-3.2zM322.7 71.8h3.2v3.2h-3.2zM324.4 72.1h3.2v3.2h-3.2zM326.1 68.6h3.2v3.2h-3.2zM327.9 70.7h3.2v3.2h-3.2zM329.6 79.2h3.2v3.2h-3.2zM331.3 71.5h3.2v3.2h-3.2zM333.0 70.3h3.2v3.2h-3.2zM334.7 75.2h3.2v3.2h-3.2zM336.4 79.0h3.2v3.2h-3.2zM338.1 69.5h3.2v3.2h-3.2zM339.9 73.9h3.2v3.2h-3.2zM341.6 72.6h3.2v3.2h-3.2zM343.3 69.0h3.2v3.2h-3.2zM345.0 77.7h3.2v3.2h-3.2zM346.7 75.3h3.2v3.2h-3.2zM348.4 75.8h3.2v3.2h-3.2zM350.2 73.2h3.2v3.2h-3.2zM351.9 77.6h3.2v3.2h-3.2zM353.6 74.4h3.2v3.2h-3.2zM355.3 76.0h3.2v3.2h-3.2zM357.0 73.0h3.2v3.2h-3.2zM358.7 72.9h3.2v3.2h-3.2zM360.5 81.8h3.2v3.2h-3.2zM362.2 75.8h3.2v3.2h-3.2zM363.9 78.8h3.2v3.2h-3.2zM365.6 78.0h3.2v3.2h-3.2zM367.3 76.9h3.2v3.2h-3.2zM369.0 77.0h3.2v3.2h-3.2zM370.8 81.3h3.2v3.2h-3.2zM372.5 78.4h3.2v3.2h-3.2zM374.2 79.3h3.2v3.2h-3.2zM375.9 80.3h3.2v3.2h-3.2zM377.6 84.6h3.2v3.2h-3.2zM379.3 83.3h3.2v3.2h-3.2zM381.1 82.8h3.2v3.2h-3.2zM382.8 80.0h3.2v3.2h-3.2zM384.5 77.7h3.2v3.2h-3.2zM386.2 86.1h3.2v3.2h-3.2zM387.9 86.7h3.2v3.2h-3.2zM389.6 83.5h3.2v3.2h-3.2zM391.4 86.3h3.2v3.2h-3.2zM393.1 87.8h3.2v3.2h-3.2zM394.8 88.6h3.2v3.2h-3.2zM396.5 89.5h3.2v3.2h-3.2zM398.2 85.5h3.2v3.2h-3.2zM399.9 92.9h3.2v3.2h-3.2zM401.6 84.3h3.2v3.2h-3.2zM403.4 92.3h3.2v3.2h-3.2zM405.1 91.9h3.2v3.2h-3.2zM406.8 94.1h3.2v3.2h-3.2zM408.5 98.4h3.2v3.2h-3.2zM410.2 98.1h3.2v3.2h-3.2zM411.9 90.2h3.2v3.2h-3.2zM413.7 89.5h3.2v3.2h-3.2zM415.4 99.2h3.2v3.2h-3.2zM417.1 94.2h3.2v3.2h-3.2zM418.8 99.0h3.2v3.2h-3.2zM420.5 103.3h3.2v3.2h-3.2zM422.2 96.4h3.2v3.2h-3.2zM424.0 96.4h3.2v3.2h-3.2zM425.7 106.2h3.2v3.2h-3.2zM427.4 107.3h3.2v3.2h-3.2zM429.1 108.3h3.2v3.2h-3.2zM430.8 111.4h3.2v3.2h-3.2zM432.5 110.6h3.2v3.2h-3.2zM434.3 110.9h3.2v3.2h-3.2zM436.0 118.1h3.2v3.2h-3.2zM437.7 118.2h3.2v3.2h-3.2zM439.4 119.0h3.2v3.2h-3.2zM441.1 129.6h3.2v3.2h-3.2zM442.8 131.2h3.2v3.2h-3.2zM444.6 136.7h3.2v3.2h-3.2zM446.3 136.1h3.2v3.2h-3.2zM448.0 141.8h3.2v3.2h-3.2zM449.7 145.5h3.2v3.2h-3.2zM451.4 151.3h3.2v3.2h-3.2zM453.1 160.8h3.2v3.2h-3.2zM454.9 163.8h3.2v3.2h-3.2zM456.6 174.6h3.2v3.2h-3.2zM458.3 182.0h3.2v3.2h-3.2zM460.0 195.9h3.2v3.2h-3.2zM461.7 193.1h3.2v3.2h-3.2zM463.4 210.5h3.2v3.2h-3.2zM465.1 217.6h3.2v3.2h-3.2zM466.9 229.1h3.2v3.2h-3.2zM468.6 236.2h3.2v3.2h-3.2zM470.3 252.4h3.2v3.2h-3.2zM472.0 270.0h3.2v3.2h-3.2zM473.7 281.3h3.2v3.2h-3.2zM475.4 296.3h3.2v3.2h-3.2zM477.2 309.8h3.2v3.2h-3.2zM478.9 329.2h3.2v3.2h-3.2zM480.6 339.3h3.2v3.2h-3.2zM482.3 345.0h3.2v3.2h-3.2zM484.0 362.0h3.2v3.2h-3.2zM485.7 368.0h3.2v3.2h-3.2zM487.5 372.2h3.2v3.2h-3.2zM489.2 388.2h3.2v3.2h-3.2zM490.9 399.5h3.2v3.2h-3.2zM492.6 398.4h3.2v3.2h-3.2zM494.3 396.1h3.2v3.2h-3.2zM496.0 397.4h3.2v3.2h-3.2zM497.8 404.1h3.2v3.2h-3.2zM499.5 399.2h3.2v3.2h-3.2zM501.2 395.8h3.2v3.2h-3.2zM502.9 390.7h3.2v3.2h-3.2zM504.6 384.5h3.2v3.2h-3.2zM506.3 378.8h3.2v3.2h-3.2zM508.1 367.8h3.2v3.2h-3.2zM509.8 355.0h3.2v3.2h-3.2zM511.5 337.9h3.2v3.2h-3.2zM513.2 329.4h3.2v3.2h-3.2zM514.9 311.1h3.2v3.2h-3.2zM516.6 302.8h3.2v3.2h-3.2zM518.4 280.6h3.2v3.2h-3.2zM520.1 270.7h3.2v3.2h-3.2zM521.8 258.1h3.2v3.2h-3.2zM523.5 241.2h3.2v3.2h-3.2zM525.2 240.0h3.2v3.2h-3.2zM526.9 228.3h3.2v3.2h-3.2zM528.7 211.8h3.2v3.2h-3.2zM530.4 206.8h3.2v3.2h-3.2zM532.1 197.0h3.2v3.2h-3.2zM533.8 179.1h3.2v3.2h-3.2zM535.5 181.8h3.2v3.2h-3.2zM537.2 174.3h3.2v3.2h-3.2zM538.9 168.9h3.2v3.2h-3.2zM540.7 159.7h3.2v3.2h-3.2zM542.4 157.5h3.2v3.2h-3.2zM544.1 153.4h3.2v3.2h-3.2zM545.8 154.1h3.2v3.2h-3.2zM547.5 147.5h3.2v3.2h-3.2zM549.2 143.0h3.2v3.2h-3.2zM551.0 145.3h3.2v3.2h-3.2zM552.7 135.5h3.2v3.2h-3.2zM554.4 133.6h3.2v3.2h-3.2zM556.1 126.5h3.2v3.2h-3.2zM557.8 136.0h3.2v3.2h-3.2zM559.5 132.2h3.2v3.2h-3.2zM561.3 130.5h3.2v3.2h-3.2zM563.0 128.3h3.2v3.2h-3.2zM564.7 125.1h3.2v3.2h-3.2zM566.4 124.4h3.2v3.2h-3.2zM568.1 121.9h3.2v3.2h-3.2zM569.8 121.4h3.2v3.2h-3.2zM571.6 121.6h3.2v3.2h-3.2zM573.3 126.1h3.2v3.2h-3.2zM575.0 122.5h3.2v3.2h-3.2zM576.7 120.2h3.2v3.2h-3.2zM578.4 118.4h3.2v3.2h-3.2zM580.1 118.3h3.2v3.2h-3.2zM581.9 126.0h3.2v3.2h-3.2zM583.6 122.6h3.2v3.2h-3.2zM585.3 121.6h3.2v3.2h-3.2zM587.0 120.7h3.2v3.2h-3.2zM588.7 118.9h3.2v3.2h-3.2zM590.4 123.3h3.2v3.2h-3.2zM592.2 127.5h3.2v3.2h-3.2zM593.9 124.3h3.2v3.2h-3.2zM595.6 126.2h3.2v3.2h-3.2zM597.3 127.7h3.2v3.2h-3.2zM599.0 130.5h3.2v3.2h-3.2zM600.7 126.6h3.2v3.2h-3.2zM602.4 133.3h3.2v3.2h-3.2zM604.2 133.5h3.2v3.2h-3.2zM605.9 142.0h3.2v3.2h-3.2zM607.6 139.2h3.2v3.2h-3.2zM609.3 146.9h3.2v3.2h-3.2zM611.0 153.6h3.2v3.2h-3.2zM612.7 151.1h3.2v3.2h-3.2zM614.5 154.3h3.2v3.2h-3.2zM616.2 161.6h3.2v3.2h-3.2zM617.9 166.0h3.2v3.2h-3.2zM619.6 168.2h3.2v3.2h-3.2zM621.3 179.3h3.2v3.2h-3.2zM623.0 191.3h3.2v3.2h-3.2zM624.8 191.0h3.2v3.2h-3.2zM626.5 199.3h3.2v3.2h-3.2zM628.2 205.4h3.2v3.2h-3.2zM629.9 219.8h3.2v3.2h-3.2zM631.6 225.2h3.2v3.2h-3.2zM633.3 237.2h3.2v3.2h-3.2zM635.1 257.9h3.2v3.2h-3.2zM636.8 263.8h3.2v3.2h-3.2zM638.5 284.8h3.2v3.2h-3.2zM640.2 301.2h3.2v3.2h-3.2zM641.9 312.2h3.2v3.2h-3.2zM643.6 328.8h3.2v3.2h-3.2zM645.4 349.0h3.2v3.2h-3.2zM647.1 356.8h3.2v3.2h-3.2zM648.8 369.7h3.2v3.2h-3.2zM650.5 380.4h3.2v3.2h-3.2zM652.2 397.3h3.2v3.2h-3.2zM653.9 412.8h3.2v3.2h-3.2zM655.7 420.2h3.2v3.2h-3.2zM657.4 421.1h3.2v3.2h-3.2zM659.1 427.2h3.2v3.2h-3.2zM660.8 432.5h3.2v3.2h-3.2zM662.5 437.7h3.2v3.2h-3.2zM664.2 437.2h3.2v3.2h-3.2zM665.9 439.0h3.2v3.2h-3.2zM667.7 438.8h3.2v3.2h-3.2zM669.4 435.9h3.2v3.2h-3.2zM671.1 435.9h3.2v3.2h-3.2zM672.8 436.3h3.2v3.2h-3.2zM674.5 435.4h3.2v3.2h-3.2zM676.2 438.2h3.2v3.2h-3.2zM678.0 444.4h3.2v3.2h-3.2zM679.7 442.0h3.2v3.2h-3.2zM681.4 442.1h3.2v3.2h-3.2zM683.1 437.8h3.2v3.2h-3.2zM684.8 445.4h3.2v3.2h-3.2zM686.5 436.7h3.2v3.2h-3.2zM688.3 435.9h3.2v3.2h-3.2zM690.0 438.6h3.2v3.2h-3.2zM691.7 430.7h3.2v3.2h-3.2zM693.4 417.9h3.2v3.2h-3.2zM695.1 400.6h3.2v3.2h-3.2zM696.8 391.1h3.2v3.2h-3.2zM698.6 374.4h3.2v3.2h-3.2zM700.3 362.0h3.2v3.2h-3.2zM702.0 349.9h3.2v3.2h-3.2zM703.7 325.2h3.2v3.2h-3.2zM705.4 304.3h3.2v3.2h-3.2zM707.1 286.0h3.2v3.2h-3.2zM708.9 273.6h3.2v3.2h-3.2zM710.6 258.0h3.2v3.2h-3.2zM712.3 240.6h3.2v3.2h-3.2zM714.0 231.9h3.2v3.2h-3.2zM715.7 215.7h3.2v3.2h-3.2zM717.4 212.4h3.2v3.2h-3.2zM719.2 202.3h3.2v3.2h-3.2zM720.9 193.3h3.2v3.2h-3.2zM722.6 179.7h3.2v3.2h-3.2zM724.3 175.5h3.2v3.2h-3.2zM726.0 166.4h3.2v3.2h-3.2zM727.7 159.2h3.2v3.2h-3.2zM729.5 153.6h3.2v3.2h-3.2zM731.2 145.1h3.2v3.2h-3.2zM732.9 139.8h3.2v3.2h-3.2zM734.6 143.0h3.2v3.2h-3.2zM736.3 135.5h3.2v3.2h-3.2zM738.0 133.2h3.2v3.2h-3.2zM739.7 132.4h3.2v3.2h-3.2zM741.5 119.9h3.2v3.2h-3.2zM743.2 120.1h3.2v3.2h-3.2zM744.9 120.6h3.2v3.2h-3.2zM746.6 118.8h3.2v3.2h-3.2zM748.3 113.8h3.2v3.2h-3.2zM750.0 116.4h3.2v3.2h-3.2zM751.8 111.5h3.2v3.2h-3.2zM753.5 104.7h3.2v3.2h-3.2zM755.2 103.9h3.2v3.2h-3.2zM756.9 108.1h3.2v3.2h-3.2zM758.6 105.3h3.2v3.2h-3.2zM760.3 95.8h3.2v3.2h-3.2zM762.1 105.4h3.2v3.2h-3.2zM763.8 101.5h3.2v3.2h-3.2zM765.5 102.8h3.2v3.2h-3.2zM767.2 95.8h3.2v3.2h-3.2zM768.9 95.0h3.2v3.2h-3.2zM770.6 91.1h3.2v3.2h-3.2zM772.4 102.5h3.2v3.2h-3.2zM774.1 92.3h3.2v3.2h-3.2zM775.8 97.4h3.2v3.2h-3.2zM777.5 89.0h3.2v3.2h-3.2zM779.2 90.9h3.2v3.2h-3.2zM780.9 83.9h3.2v3.2h-3.2zM782.7 87.5h3.2v3.2h-3.2zM784.4 91.5h3.2v3.2h-3.2zM786.1 83.2h3.2v3.2h-3.2zM787.8 90.5h3.2v3.2h-3.2zM789.5 87.4h3.2v3.2h-3.2zM791.2 82.1h3.2v3.2h-3.2zM793.0 83.4h3.2v3.2h-3.2zM794.7 83.0h3.2v3.2h-3.2zM796.4 83.9h3.2v3.2h-3.2zM798.1 81.7h3.2v3.2h-3.2zM799.8 80.2h3.2v3.2h-3.2zM801.5 81.6h3.2v3.2h-3.2zM803.2 78.7h3.2v3.2h-3.2zM805.0 77.4h3.2v3.2h-3.2zM806.7 81.2h3.2v3.2h-3.2zM808.4 84.0h3.2v3.2h-3.2zM810.1 75.4h3.2v3.2h-3.2zM811.8 80.2h3.2v3.2h-3.2zM813.5 77.7h3.2v3.2h-3.2zM815.3 76.2h3.2v3.2h-3.2zM817.0 82.1h3.2v3.2h-3.2zM818.7 77.2h3.2v3.2h-3.2zM820.4 83.7h3.2v3.2h-3.2zM822.1 75.7h3.2v3.2h-3.2zM823.8 79.4h3.2v3.2h-3.2zM825.6 77.0h3.2v3.2h-3.2zM827.3 75.0h3.2v3.2h-3.2zM829.0 79.3h3.2v3.2h-3.2zM830.7 76.5h3.2v3.2h-3.2zM832.4 78.8h3.2v3.2h-3.2zM834.1 76.4h3.2v3.2h-3.2zM835.9 72.7h3.2v3.2h-3.2zM837.6 75.8h3.2v3.2h-3.2zM839.3 76.1h3.2v3.2h-3.2zM841.0 79.0h3.2v3.2h-3.2zM842.7 72.4h3.2v3.2h-3.2zM844.4 75.2h3.2v3.2h-3.2zM846.2 69.3h3.2v3.2h-3.2zM847.9 77.2h3.2v3.2h-3.2zM849.6 71.1h3.2v3.2h-3.2zM851.3 68.5h3.2v3.2h-3.2zM853.0 74.3h3.2v3.2h-3.2zM854.7 78.1h3.2v3.2h-3.2zM856.5 69.0h3.2v3.2h-3.2zM858.2 70.3h3.2v3.2h-3.2zM859.9 71.3h3.2v3.2h-3.2zM861.6 69.9h3.2v3.2h-3.2zM863.3 74.9h3.2v3.2h-3.2zM865.0 70.7h3.2v3.2h-3.2zM866.8 70.9h3.2v3.2h-3.2zM868.5 75.2h3.2v3.2h-3.2zM870.2 70.5h3.2v3.2h-3.2zM871.9 74.4h3.2v3.2h-3.2zM873.6 69.5h3.2v3.2h-3.2zM875.3 68.6h3.2v3.2h-3.2zM877.0 66.3h3.2v3.2h-3.2zM878.8 78.8h3.2v3.2h-3.2zM880.5 71.3h3.2v3.2h-3.2zM882.2 73.1h3.2v3.2h-3.2zM883.9 72.1h3.2v3.2h-3.2zM885.6 72.6h3.2v3.2h-3.2zM887.3 72.1h3.2v3.2h-3.2zM889.1 78.4h3.2v3.2h-3.2zM890.8 68.2h3.2v3.2h-3.2zM892.5 66.4h3.2v3.2h-3.2zM894.2 68.2h3.2v3.2h-3.2zM895.9 67.0h3.2v3.2h-3.2zM897.6 74.0h3.2v3.2h-3.2zM899.4 74.1h3.2v3.2h-3.2zM901.1 68.0h3.2v3.2h-3.2zM902.8 66.5h3.2v3.2h-3.2zM904.5 69.9h3.2v3.2h-3.2zM906.2 75.8h3.2v3.2h-3.2zM907.9 61.4h3.2v3.2h-3.2zM909.7 72.7h3.2v3.2h-3.2zM911.4 67.2h3.2v3.2h-3.2zM913.1 74.3h3.2v3.2h-3.2zM914.8 67.0h3.2v3.2h-3.2zM916.5 69.6h3.2v3.2h-3.2zM918.2 65.4h3.2v3.2h-3.2zM920.0 67.2h3.2v3.2h-3.2zM921.7 75.1h3.2v3.2h-3.2zM923.4 73.1h3.2v3.2h-3.2zM925.1 68.9h3.2v3.2h-3.2zM926.8 67.3h3.2v3.2h-3.2zM928.5 63.7h3.2v3.2h-3.2zM930.3 68.8h3.2v3.2h-3.2zM932.0 70.0h3.2v3.2h-3.2zM933.7 69.7h3.2v3.2h-3.2zM935.4 69.6h3.2v3.2h-3.2z" fill="#111"/>
<path d="M59.0 68.7L60.0 68.7L61.0 68.7L62.0 68.7L63.0 68.7L64.0 68.7L65.0 68.7L66.0 68.7L67.0 68.7L68.0 68.7L69.0 68.7L70.0 68.7L71.0 68.7L72.0 68.7L73.0 68.7L74.0 68.7L75.0 68.8L76.0 68.8L77.0 68.8L78.0 68.8L79.0 68.8L80.0 68.8L81.0 68.8L82.0 68.8L83.0 68.8L84.0 68.8L85.0 68.8L86.0 68.8L87.0 68.8L88.0 68.8L89.0 68.8L90.0 68.9L91.0 68.9L92.0 68.9L93.0 68.9L94.0 68.9L95.0 68.9L96.0 68.9L97.0 68.9L98.0 68.9L99.0 68.9L100.0 68.9L101.0 68.9L102.0 68.9L103.0 68.9L104.0 69.0L105.0 69.0L106.0 69.0L107.0 69.0L108.0 69.0L109.0 69.0L110.0 69.0L111.0 69.0L112.0 69.0L113.0 69.0L114.0 69.0L115.0 69.0L116.0 69.0L117.0 69.1L118.0 69.1L119.0 69.1L120.0 69.1L121.0 69.1L122.0 69.1L123.0 69.1L124.0 69.1L125.0 69.1L126.0 69.1L127.0 69.1L128.0 69.1L129.0 69.2L130.0 69.2L131.0 69.2L132.0 69.2L133.0 69.2L134.0 69.2L135.0 69.2L136.0 69.2L137.0 69.2L138.0 69.2L139.0 69.3L140.0 69.3L141.0 69.3L142.0 69.3L143.0 69.3L144.0 69.3L145.0 69.3L146.0 69.3L147.0 69.3L148.0 69.3L149.0 69.4L150.0 69.4L151.0 69.4L152.0 69.4L153.0 69.4L154.0 69.4L155.0 69.4L156.0 69.4L157.0 69.4L158.0 69.5L159.0 69.5L160.0 69.5L161.0 69.5L162.0 69.5L163.0 69.5L164.0 69.5L165.0 69.5L166.0 69.5L167.0 69.6L168.0 69.6L169.0 69.6L170.0 69.6L171.0 69.6L172.0 69.6L173.0 69.6L174.0 69.6L175.0 69.7L176.0 69.7L177.0 69.7L178.0 69.7L179.0 69.7L180.0 69.7L181.0 69.7L182.0 69.8L183.0 69.8L184.0 69.8L185.0 69.8L186.0 69.8L187.0 69.8L188.0 69.8L189.0 69.9L190.0 69.9L191.0 69.9L192.0 69.9L193.0 69.9L194.0 69.9L195.0 70.0L196.0 70.0L197.0 70.0L198.0 70.0L199.0 70.0L200.0 70.0L201.0 70.0L202.0 70.1L203.0 70.1L204.0 70.1L205.0 70.1L206.0 70.1L207.0 70.2L208.0 70.2L209.0 70.2L210.0 70.2L211.0 70.2L212.0 70.2L213.0 70.3L214.0 70.3L215.0 70.3L216.0 70.3L217.0 70.3L218.0 70.4L219.0 70.4L220.0 70.4L221.0 70.4L222.0 70.4L223.0 70.5L224.0 70.5L225.0 70.5L226.0 70.5L227.0 70.5L228.0 70.6L229.0 70.6L230.0 70.6L231.0 70.6L232.0 70.7L233.0 70.7L234.0 70.7L235.0 70.7L236.0 70.8L237.0 70.8L238.0 70.8L239.0 70.8L240.0 70.8L241.0 70.9L242.0 70.9L243.0 70.9L244.0 71.0L245.0 71.0L246.0 71.0L247.0 71.0L248.0 71.1L249.0 71.1L250.0 71.1L251.0 71.1L252.0 71.2L253.0 71.2L254.0 71.2L255.0 71.3L256.0 71.3L257.0 71.3L258.0 71.3L259.0 71.4L260.0 71.4L261.0 71.4L262.0 71.5L263.0 71.5L264.0 71.5L265.0 71.6L266.0 71.6L267.0 71.6L268.0 71.7L269.0 71.7L270.0 71.7L271.0 71.8L272.0 71.8L273.0 71.9L274.0 71.9L275.0 71.9L276.0 72.0L277.0 72.0L278.0 72.0L279.0 72.1L280.0 72.1L281.0 72.2L282.0 72.2L283.0 72.2L284.0 72.3L285.0 72.3L286.0 72.4L287.0 72.4L288.0 72.5L289.0 72.5L290.0 72.6L291.0 72.6L292.0 72.7L293.0 72.7L294.0 72.7L295.0 72.8L296.0 72.8L297.0 72.9L298.0 72.9L299.0 73.0L300.0 73.1L301.0 73.1L302.0 73.2L303.0 73.2L304.0 73.3L305.0 73.3L306.0 73.4L307.0 73.4L308.0 73.5L309.0 73.6L310.0 73.6L311.0 73.7L312.0 73.8L313.0 73.8L314.0 73.9L315.0 74.0L316.0 74.0L317.0 74.1L318.0 74.2L319.0 74.2L320.0 74.3L321.0 74.4L322.0 74.5L323.0 74.5L324.0 74.6L325.0 74.7L326.0 74.8L327.0 74.8L328.0 74.9L329.0 75.0L330.0 75.1L331.0 75.2L332.0 75.3L333.0 75.4L334.0 75.4L335.0 75.5L336.0 75.6L337.0 75.7L338.0 75.8L339.0 75.9L340.0 76.0L341.0 76.1L342.0 76.2L343.0 76.4L344.0 76.5L345.0 76.6L346.0 76.7L347.0 76.8L348.0 76.9L349.0 77.0L350.0 77.2L351.0 77.3L352.0 77.4L353.0 77.6L354.0 77.7L355.0 77.8L356.0 78.0L357.0 78.1L358.0 78.2L359.0 78.4L360.0 78.5L361.0 78.7L362.0 78.9L363.0 79.0L364.0 79.2L365.0 79.4L366.0 79.5L367.0 79.7L368.0 79.9L369.0 80.1L370.0 80.3L371.0 80.4L372.0 80.6L373.0 80.8L374.0 81.0L375.0 81.3L376.0 81.5L377.0 81.7L378.0 81.9L379.0 82.2L380.0 82.4L381.0 82.6L382.0 82.9L383.0 83.1L384.0 83.4L385.0 83.7L386.0 84.0L387.0 84.2L388.0 84.5L389.0 84.8L390.0 85.1L391.0 85.5L392.0 85.8L393.0 86.1L394.0 86.5L395.0 86.8L396.0 87.2L397.0 87.6L398.0 87.9L399.0 88.3L400.0 88.7L401.0 89.2L402.0 89.6L403.0 90.0L404.0 90.5L405.0 91.0L406.0 91.5L407.0 92.0L408.0 92.5L409.0 93.0L410.0 93.6L411.0 94.2L412.0 94.8L413.0 95.4L414.0 96.0L415.0 96.7L416.0 97.3L417.0 98.0L418.0 98.8L419.0 99.5L420.0 100.3L421.0 101.1L422.0 102.0L423.0 102.8L424.0 103.7L425.0 104.7L426.0 105.6L427.0 106.7L428.0 107.7L429.0 108.8L430.0 109.9L431.0 111.1L432.0 112.4L433.0 113.6L434.0 115.0L435.0 116.4L436.0 117.8L437.0 119.4L438.0 120.9L439.0 122.6L440.0 124.3L441.0 126.1L442.0 128.0L443.0 130.0L444.0 132.1L445.0 134.2L446.0 136.5L447.0 138.9L448.0 141.4L449.0 144.0L450.0 146.7L451.0 149.6L452.0 152.6L453.0 155.8L454.0 159.1L455.0 162.6L456.0 166.3L457.0 170.2L458.0 174.2L459.0 178.5L460.0 183.0L461.0 187.7L462.0 192.6L463.0 197.8L464.0 203.2L465.0 208.9L466.0 214.9L467.0 221.1L468.0 227.6L469.0 234.4L470.0 241.4L471.0 248.7L472.0 256.3L473.0 264.1L474.0 272.2L475.0 280.4L476.0 288.8L477.0 297.3L478.0 305.8L479.0 314.4L480.0 322.9L481.0 331.2L482.0 339.4L483.0 347.2L484.0 354.7L485.0 361.8L486.0 368.4L487.0 374.4L488.0 379.8L489.0 384.6L490.0 388.8L491.0 392.3L492.0 395.3L493.0 397.7L494.0 399.5L495.0 400.8L496.0 401.7L497.0 402.1L498.0 402.3L499.0 402.1L500.0 401.5L501.0 400.4L502.0 398.9L503.0 396.8L504.0 394.1L505.0 390.8L506.0 387.0L507.0 382.5L508.0 377.3L509.0 371.6L510.0 365.3L511.0 358.6L512.0 351.3L513.0 343.7L514.0 335.8L515.0 327.7L516.0 319.4L517.0 311.0L518.0 302.7L519.0 294.4L520.0 286.2L521.0 278.1L522.0 270.2L523.0 262.6L524.0 255.2L525.0 248.0L526.0 241.1L527.0 234.5L528.0 228.2L529.0 222.1L530.0 216.3L531.0 210.8L532.0 205.6L533.0 200.6L534.0 195.8L535.0 191.3L536.0 187.1L537.0 183.0L538.0 179.2L539.0 175.5L540.0 172.1L541.0 168.8L542.0 165.7L543.0 162.8L544.0 160.0L545.0 157.4L546.0 154.9L547.0 152.5L548.0 150.3L549.0 148.2L550.0 146.2L551.0 144.4L552.0 142.6L553.0 140.9L554.0 139.4L555.0 137.9L556.0 136.5L557.0 135.2L558.0 133.9L559.0 132.8L560.0 131.7L561.0 130.7L562.0 129.7L563.0 128.8L564.0 128.0L565.0 127.3L566.0 126.6L567.0 125.9L568.0 125.3L569.0 124.8L570.0 124.3L571.0 123.8L572.0 123.4L573.0 123.1L574.0 122.8L575.0 122.5L576.0 122.3L577.0 122.2L578.0 122.1L579.0 122.0L580.0 122.0L581.0 122.0L582.0 122.0L583.0 122.1L584.0 122.3L585.0 122.5L586.0 122.7L587.0 123.0L588.0 123.3L589.0 123.7L590.0 124.1L591.0 124.6L592.0 125.1L593.0 125.6L594.0 126.3L595.0 126.9L596.0 127.6L597.0 128.4L598.0 129.3L599.0 130.2L600.0 131.1L601.0 132.2L602.0 133.2L603.0 134.4L604.0 135.7L605.0 137.0L606.0 138.4L607.0 139.8L608.0 141.4L609.0 143.1L610.0 144.8L611.0 146.7L612.0 148.7L613.0 150.8L614.0 153.0L615.0 155.3L616.0 157.8L617.0 160.4L618.0 163.2L619.0 166.1L620.0 169.2L621.0 172.4L622.0 175.9L623.0 179.6L624.0 183.4L625.0 187.5L626.0 191.8L627.0 196.4L628.0 201.2L629.0 206.3L630.0 211.7L631.0 217.3L632.0 223.3L633.0 229.6L634.0 236.1L635.0 243.0L636.0 250.2L637.0 257.7L638.0 265.5L639.0 273.6L640.0 281.9L641.0 290.5L642.0 299.3L643.0 308.2L644.0 317.3L645.0 326.3L646.0 335.4L647.0 344.4L648.0 353.2L649.0 361.9L650.0 370.2L651.0 378.2L652.0 385.9L653.0 393.1L654.0 399.9L655.0 406.2L656.0 412.0L657.0 417.3L658.0 422.0L659.0 426.1L660.0 429.6L661.0 432.6L662.0 435.0L663.0 436.8L664.0 438.2L665.0 439.1L666.0 439.6L667.0 439.8L668.0 439.8L669.0 439.5L670.0 439.0L671.0 438.5L672.0 438.0L673.0 437.5L674.0 437.2L675.0 437.1L676.0 437.2L677.0 437.6L678.0 438.2L679.0 439.1L680.0 440.1L681.0 441.2L682.0 442.4L683.0 443.6L684.0 444.5L685.0 445.3L686.0 445.7L687.0 445.6L688.0 445.1L689.0 443.9L690.0 442.0L691.0 439.2L692.0 435.7L693.0 431.3L694.0 426.1L695.0 420.1L696.0 413.3L697.0 405.9L698.0 397.8L699.0 389.1L700.0 379.8L701.0 370.2L702.0 360.2L703.0 349.9L704.0 339.6L705.0 329.2L706.0 318.9L707.0 308.8L708.0 298.8L709.0 289.0L710.0 279.6L711.0 270.5L712.0 261.7L713.0 253.3L714.0 245.3L715.0 237.6L716.0 230.3L717.0 223.3L718.0 216.7L719.0 210.5L720.0 204.5L721.0 198.9L722.0 193.6L723.0 188.5L724.0 183.7L725.0 179.2L726.0 174.9L727.0 170.8L728.0 167.0L729.0 163.3L730.0 159.8L731.0 156.5L732.0 153.4L733.0 150.4L734.0 147.6L735.0 144.9L736.0 142.4L737.0 139.9L738.0 137.6L739.0 135.4L740.0 133.3L741.0 131.2L742.0 129.3L743.0 127.5L744.0 125.7L745.0 124.0L746.0 122.4L747.0 120.9L748.0 119.4L749.0 118.0L750.0 116.6L751.0 115.3L752.0 114.0L753.0 112.8L754.0 111.7L755.0 110.5L756.0 109.5L757.0 108.4L758.0 107.4L759.0 106.5L760.0 105.6L761.0 104.7L762.0 103.8L763.0 103.0L764.0 102.2L765.0 101.4L766.0 100.6L767.0 99.9L768.0 99.2L769.0 98.5L770.0 97.9L771.0 97.3L772.0 96.6L773.0 96.0L774.0 95.5L775.0 94.9L776.0 94.4L777.0 93.8L778.0 93.3L779.0 92.8L780.0 92.4L781.0 91.9L782.0 91.4L783.0 91.0L784.0 90.6L785.0 90.1L786.0 89.7L787.0 89.3L788.0 89.0L789.0 88.6L790.0 88.2L791.0 87.9L792.0 87.5L793.0 87.2L794.0 86.9L795.0 86.5L796.0 86.2L797.0 85.9L798.0 85.6L799.0 85.3L800.0 85.0L801.0 84.8L802.0 84.5L803.0 84.2L804.0 84.0L805.0 83.7L806.0 83.5L807.0 83.2L808.0 83.0L809.0 82.8L810.0 82.6L811.0 82.3L812.0 82.1L813.0 81.9L814.0 81.7L815.0 81.5L816.0 81.3L817.0 81.1L818.0 80.9L819.0 80.8L820.0 80.6L821.0 80.4L822.0 80.2L823.0 80.1L824.0 79.9L825.0 79.7L826.0 79.6L827.0 79.4L828.0 79.3L829.0 79.1L830.0 79.0L831.0 78.8L832.0 78.7L833.0 78.5L834.0 78.4L835.0 78.3L836.0 78.1L837.0 78.0L838.0 77.9L839.0 77.8L840.0 77.6L841.0 77.5L842.0 77.4L843.0 77.3L844.0 77.2L845.0 77.1L846.0 76.9L847.0 76.8L848.0 76.7L849.0 76.6L850.0 76.5L851.0 76.4L852.0 76.3L853.0 76.2L854.0 76.1L855.0 76.0L856.0 75.9L857.0 75.8L858.0 75.8L859.0 75.7L860.0 75.6L861.0 75.5L862.0 75.4L863.0 75.3L864.0 75.3L865.0 75.2L866.0 75.1L867.0 75.0L868.0 74.9L869.0 74.9L870.0 74.8L871.0 74.7L872.0 74.6L873.0 74.6L874.0 74.5L875.0 74.4L876.0 74.4L877.0 74.3L878.0 74.2L879.0 74.2L880.0 74.1L881.0 74.0L882.0 74.0L883.0 73.9L884.0 73.9L885.0 73.8L886.0 73.7L887.0 73.7L888.0 73.6L889.0 73.6L890.0 73.5L891.0 73.5L892.0 73.4L893.0 73.3L894.0 73.3L895.0 73.2L896.0 73.2L897.0 73.1L898.0 73.1L899.0 73.0L900.0 73.0L901.0 72.9L902.0 72.9L903.0 72.9L904.0 72.8L905.0 72.8L906.0 72.7L907.0 72.7L908.0 72.6L909.0 72.6L910.0 72.5L911.0 72.5L912.0 72.5L913.0 72.4L914.0 72.4L915.0 72.3L916.0 72.3L917.0 72.3L918.0 72.2L919.0 72.2L920.0 72.1L921.0 72.1L922.0 72.1L923.0 72.0L924.0 72.0L925.0 72.0L926.0 71.9L927.0 71.9L928.0 71.9L929.0 71.8L930.0 71.8L931.0 71.7L932.0 71.7L933.0 71.7L934.0 71.7L935.0 71.6L936.0 71.6L937.0 71.6L938.0 71.5" stroke="#e4037a" stroke-width="2.7" fill="none" stroke-linejoin="round"/>
<g stroke="#111" stroke-width="2.4" fill="none" stroke-linejoin="round">
<rect x="57.9" y="3.9" width="881.3" height="458.1"/>
<path d="M278.6 462V452M498.6 462V452M718.6 462V452M278.6 3.9V14M498.6 3.9V14M718.6 3.9V14"/>
</g>
<g stroke="#231f1e" fill="none" stroke-width="2.5" stroke-linecap="round">
<path d="M193 169.2V380M188.5 169.2H197.5M188.5 380H197.5"/>
</g>
<text font-size="48" transform="translate(36.8,452) rotate(-90)">relative transmission</text>
<text font-size="47" transform="translate(174.3,308.5) rotate(-90) scale(1,1.08)">5%</text>
<text font-size="48" transform="translate(540.5,233.3) scale(1,1.04)" style="fill:#26a635">Sn2</text>
<text font-size="48" transform="translate(732.5,232.7) scale(1,1.04)" style="fill:#ee8208">Sn</text>
<path d="M763 0L583 0L583 1147C540 1106 483 1064 413 1023C342 982 279 951 223 930L223 1104C323 1151 411 1208 486 1275C561 1342 614 1406 645 1466L763 1466Z" transform="translate(790.99,232.70) scale(0.02373,-0.02373)" fill="#ee8208"/>
<text font-size="47" text-anchor="middle" transform="translate(278.6,520.3) scale(1,1.045)">-5</text>
<text font-size="47" text-anchor="middle" transform="translate(498.6,520.3) scale(1,1.045)">0</text>
<text font-size="47" text-anchor="middle" transform="translate(718.8,520.3) scale(1,1.045)">5</text>
<text x="321.2" y="573.5" font-size="44.5">velocity</text>
<text x="480.8" y="573.5" font-size="44.5">(mm s</text>
<rect x="614.6" y="550.7" width="7.2" height="2.2" fill="#231f1e"/>
<path d="M763 0L583 0L583 1147C540 1106 483 1064 413 1023C342 982 279 951 223 930L223 1104C323 1151 411 1208 486 1275C561 1342 614 1406 645 1466L763 1466Z" transform="translate(625.31,560.00) scale(0.01611,-0.01611)" fill="#231f1e"/>
<text x="646.6" y="574" font-size="44.5">)</text>
</svg>
</body></html>
